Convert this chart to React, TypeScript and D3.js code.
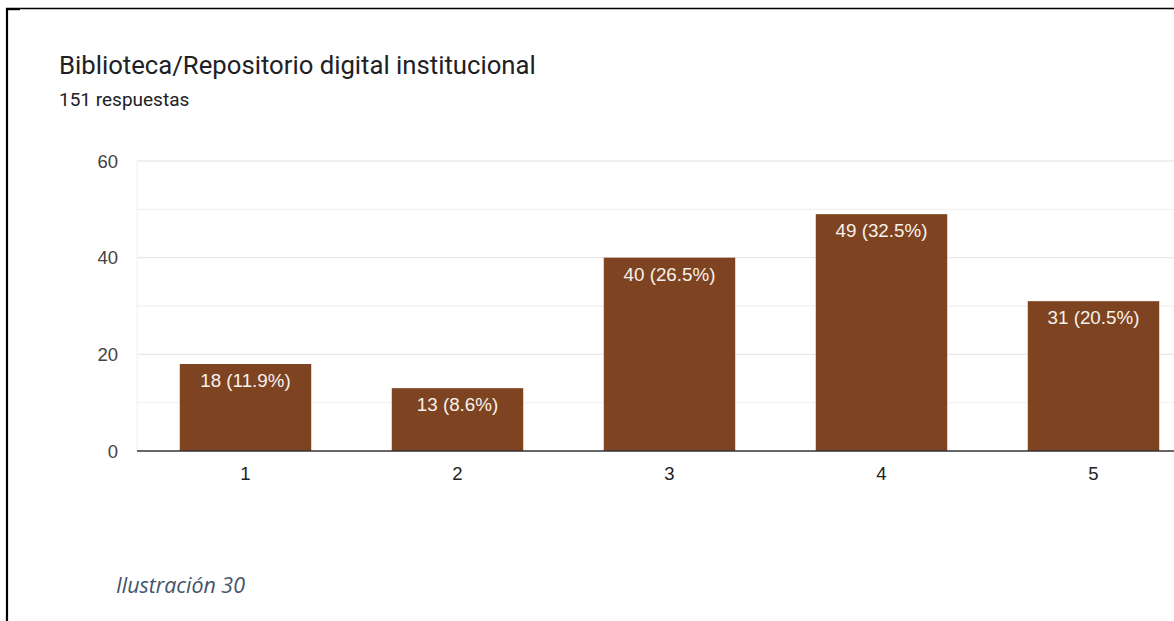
import React from "react";
import * as d3 from "d3";

const categories = ["1", "2", "3", "4", "5"];
const counts = [18, 13, 40, 49, 31];
const barLabels = ["18 (11.9%)", "13 (8.6%)", "40 (26.5%)", "49 (32.5%)", "31 (20.5%)"];
const yTicks = [0, 20, 40, 60];
const gridValues = [10, 20, 30, 40, 50, 60];
const title = "Biblioteca/Repositorio digital institucional";
const subtitle = "151 respuestas";
const caption = "Ilustración 30";

export default function App() {
  const W = 1174, H = 621;
  const plotLeft = 137, plotTop = 161, plotBottom = 451;
  const step = 212;
  const x = d3.scaleBand<string>().domain(categories).range([plotLeft + 2.5, plotLeft + 2.5 + step * categories.length]).paddingInner(0.38).paddingOuter(0.19);
  const y = d3.scaleLinear().domain([0, 60]).range([plotBottom, plotTop]);
  const barColor = "#7e4320";
  const font = "Arial, Liberation Sans";
  return (
    <svg width={W} height={H} style={{ position: "absolute", left: 0, top: 0, background: "#fff" }}>
      <rect x={0} y={0} width={W} height={H} fill="#fff" />
      {/* frame */}
      <line x1={6} y1={8.5} x2={W} y2={8.5} stroke="#000" strokeWidth={1.3} />
      <rect x={6} y={8} width={14} height={2.2} fill="#000" />
      <line x1={7} y1={8} x2={7} y2={H} stroke="#000" strokeWidth={2.2} />
      {/* titles */}
      <text x={59} y={74} fontFamily="Roboto" fontSize={25.7} fill="#202124">{title}</text>
      <text x={59} y={106} fontFamily="Roboto" fontSize={19} fill="#202124">{subtitle}</text>
      {/* grid */}
      {gridValues.map((v) => (
        <line key={v} x1={plotLeft} x2={W} y1={y(v)} y2={y(v)} stroke={v % 20 === 0 ? "#e8e8e8" : "#f2f2f2"} strokeWidth={1.3} />
      ))}
      <line x1={plotLeft} x2={plotLeft} y1={plotTop} y2={plotBottom} stroke="#f0f0f0" strokeWidth={1} />
      {/* y tick labels */}
      {yTicks.map((v) => (
        <text key={v} x={118} y={y(v) + 6.5} textAnchor="end" fontFamily={font} fontSize={18.5} fill="#444">{v}</text>
      ))}
      {/* bars */}
      {categories.map((c, i) => (
        <g key={c}>
          <rect x={x(c)} y={y(counts[i])} width={x.bandwidth()} height={plotBottom - y(counts[i])} fill={barColor} />
          <text x={(x(c) as number) + x.bandwidth() / 2} y={y(counts[i]) + 23} textAnchor="middle" fontFamily={font} fontSize={18.8} fill="#f7f2ee">{barLabels[i]}</text>
          <text x={(x(c) as number) + x.bandwidth() / 2} y={480} textAnchor="middle" fontFamily={font} fontSize={18.5} fill="#222">{c}</text>
        </g>
      ))}
      <line x1={plotLeft} x2={W} y1={plotBottom} y2={plotBottom} stroke="#333" strokeWidth={1.5} />
      {/* caption */}
      <text x={116} y={593} fontFamily="Open Sans" fontStyle="italic" fontSize={21.4} fill="#44546a">{caption}</text>
    </svg>
  );
}
